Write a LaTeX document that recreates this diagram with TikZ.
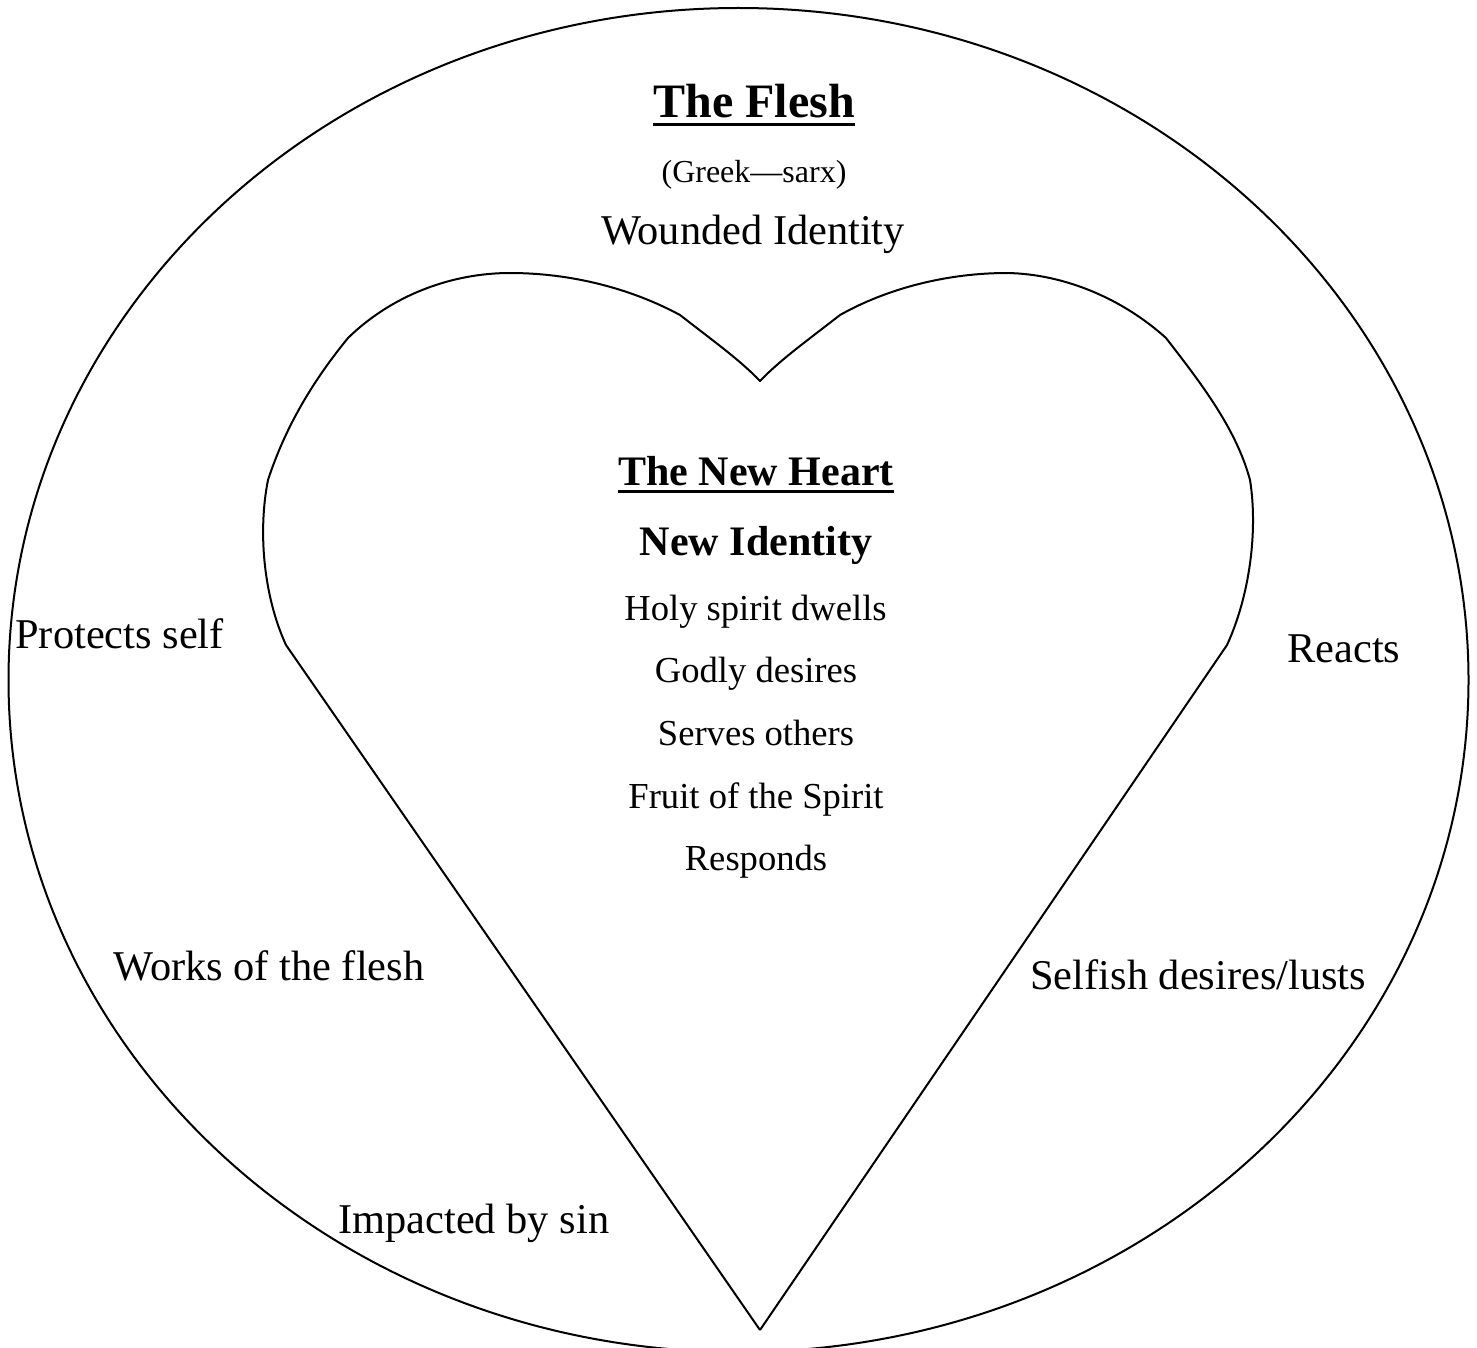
\documentclass[tikz,border=0pt]{standalone}
\usepackage{fontspec}
\setmainfont{Liberation Serif}
\newcommand\ulbox[3]{\setbox0\hbox{#1}\rlap{\rule[#2]{\wd0}{#3}}\box0}
\begin{document}
\begin{tikzpicture}[x=0.5pt,y=-0.5pt,
  outline/.style={line width=1pt,line join=round},
  title/.style={inner sep=0pt,anchor=base,font=\fontsize{24}{28}\selectfont\bfseries},
  subtitle/.style={inner sep=0pt,anchor=base,font=\fontsize{21}{25}\selectfont\bfseries},
  greek/.style={inner sep=0pt,anchor=base,font=\fontsize{16}{19}\selectfont},
  big/.style={inner sep=0pt,font=\fontsize{21.2}{25}\selectfont},
  item/.style={inner sep=0pt,anchor=base,font=\fontsize{18.3}{22}\selectfont}]
\useasboundingbox (0,0) rectangle (1477,1348);
\clip (0,0) rectangle (1477,1348);
% outer ellipse
\draw[outline] (738.5,680) ellipse [x radius=730, y radius=672];
% heart
\coordinate (notch) at (760,381);
\coordinate (tip) at (760,1330);
\coordinate (l1) at (680,315);
\coordinate (ltop) at (510,273);
\coordinate (l2) at (348,338);
\coordinate (l3) at (268,480);
\coordinate (lbot) at (286,645);
\coordinate (r1) at (840,315);
\coordinate (rtop) at (1007,273);
\coordinate (r2) at (1166,338);
\coordinate (r3) at (1250,480);
\coordinate (rbot) at (1227,645);
\draw[outline] (tip) -- (lbot)
  .. controls (263,595) and (258,530) .. (l3)
  .. controls (285,428) and (312,382) .. (l2)
  .. controls (392,295) and (452,273) .. (ltop)
  .. controls (570,273) and (630,288) .. (l1)
  .. controls (712,340) and (740,360) .. (notch)
  .. controls (780,360) and (808,340) .. (r1)
  .. controls (888,288) and (948,273) .. (rtop)
  .. controls (1066,274) and (1124,300) .. (r2)
  .. controls (1200,382) and (1236,428) .. (r3)
  .. controls (1258,530) and (1250,595) .. (rbot)
  -- (tip);
% top texts
\node[title] (flesh) at (754,118) {\ulbox{The Flesh}{-4.25pt}{1.5pt}};
\node[greek] (greek) at (754,183) {(Greek—sarx)};
\node[big,anchor=base] (wounded) at (753,245) {Wounded Identity};
% heart texts
\node[subtitle] (newheart) at (756,485) {\ulbox{The New Heart}{-4pt}{1.4pt}};
\node[subtitle] (newid) at (756,555) {New Identity};
\node[item] (holy) at (755.5,620) {Holy spirit dwells};
\node[item] (godly) at (756,682) {Godly desires};
\node[item] (serves) at (756,745) {Serves others};
\node[item] (fruit) at (756,808) {Fruit of the Spirit};
\node[item] (responds) at (756,870) {Responds};
% side texts
\node[big,anchor=base west] (protects) at (15,648) {Protects self};
\node[big,anchor=base west] (reacts) at (1287,662) {Reacts};
\node[big,anchor=base west] (works) at (113,980) {Works of the flesh};
\node[big,anchor=base west] (selfish) at (1030,989) {Selfish desires/lusts};
\node[big,anchor=base west] (impacted) at (338,1233) {Impacted by sin};
\end{tikzpicture}
\end{document}
